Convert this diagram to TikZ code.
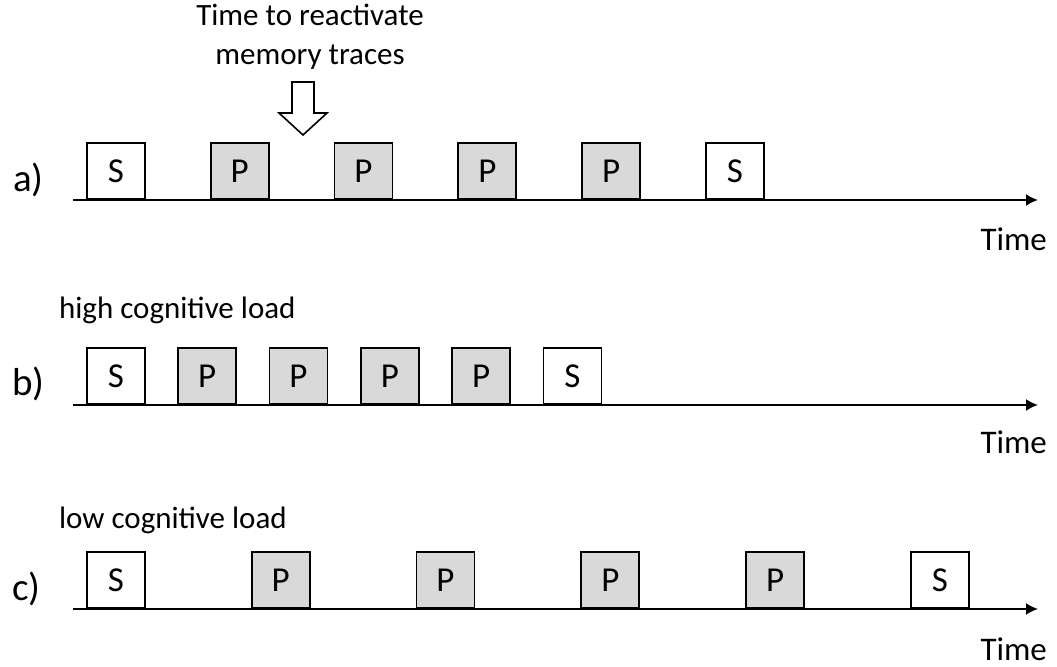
\documentclass[tikz,border=0pt]{standalone}
\usepackage{fontspec}
\setmainfont{Carlito}
\usepackage{tikz}
\tikzset{
    trial/.style={draw, line width=0.9pt, inner sep=0pt, minimum width=29pt, minimum height=28pt,
        font=\fontsize{17.5}{21}\selectfont},
    storebox/.style={trial, fill=white},
    procbox/.style={trial, fill=black!15},
    timeline/.style = {-{Latex[length=6pt, width=6pt]}, line width=0.9pt},
    hint/.style = {draw, line width=0.8pt, fill=white, line join=miter},
    rowlabel/.style={anchor=west, font=\fontsize{19.5}{23}\selectfont},
    axislabel/.style={anchor=east, font=\fontsize{16.5}{20}\selectfont},
    loadlabel/.style={anchor=west} }
\usetikzlibrary{arrows.meta, positioning}

\begin{document}
\begin{tikzpicture}[x=0.5pt, y=-0.5pt, font=\fontsize{15.5}{19.5}\selectfont]
      \useasboundingbox (0,0) rectangle (1057,667);
      % ---- a)
      \node[align=center] (note) at (310,37) {Time to reactivate\\memory traces};
      \coordinate (tip) at (303,135);
      \draw[hint] (tip) -- ++(-24,-22) -- ++(13,0) -- ++(0,-31) --
          ++(22,0) -- ++(0,31) -- ++(13,0) -- cycle;
      \coordinate (aL) at (73,200);
      \coordinate (aR) at (1038,200);
      \node[rowlabel] (la) at (6,180) {a)};
      \begin{scope}[node distance=32pt]
      \node[storebox, anchor=south west] (aS1) at (86,200) {S};
      \node[procbox, right = of aS1] (aP1) {P};
      \node[procbox, right = of aP1] (aP2) {P};
      \node[procbox, right = of aP2] (aP3) {P};
      \node[procbox, right = of aP3] (aP4) {P};
      \node[storebox, right = of aP4] (aS2) {S};
      \end{scope}
      \draw[timeline] (aL) -- (aR);
      \node[axislabel] (ta) at (1054,239) {Time};
      % ---- b)
      \node[loadlabel] (high) at (52,310) {high cognitive load};
      \coordinate (bL) at (73,405);
      \coordinate (bR) at (1038,405);
      \node[rowlabel] (lb) at (5,384) {b)};
      \begin{scope}[node distance=15.75pt]
      \node[storebox, anchor=south west] (bS1) at (86,405) {S};
      \node[procbox, right = of bS1] (bP1) {P};
      \node[procbox, right = of bP1] (bP2) {P};
      \node[procbox, right = of bP2] (bP3) {P};
      \node[procbox, right = of bP3] (bP4) {P};
      \node[storebox, right = of bP4] (bS2) {S};
      \end{scope}
      \draw[timeline] (bL) -- (bR);
      \node[axislabel] (tb) at (1054,442) {Time};
      % ---- c)
      \node[loadlabel] (low) at (52,520) {low cognitive load};
      \coordinate (cL) at (73,609);
      \coordinate (cR) at (1038,609);
      \node[rowlabel] (lc) at (5,589) {c)};
      \begin{scope}[node distance=52.5pt]
      \node[storebox, anchor=south west] (cS1) at (86,609) {S};
      \node[procbox, right = of cS1] (cP1) {P};
      \node[procbox, right = of cP1] (cP2) {P};
      \node[procbox, right = of cP2] (cP3) {P};
      \node[procbox, right = of cP3] (cP4) {P};
      \node[storebox, right = of cP4] (cS2) {S};
      \end{scope}
      \draw[timeline] (cL) -- (cR);
      \node[axislabel] (tc) at (1054,649) {Time};
\end{tikzpicture}
\end{document}
